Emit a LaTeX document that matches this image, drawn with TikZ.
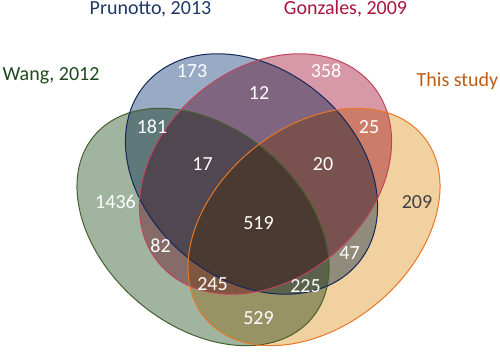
\documentclass[tikz,border=0pt]{standalone}
\usepackage{fontspec}
\setmainfont{Carlito}
\definecolor{gfill}{RGB}{160,180,160}
\definecolor{bfill}{RGB}{152,170,196}
\definecolor{rfill}{RGB}{215,152,168}
\definecolor{ofill}{RGB}{242,209,160}
\definecolor{gline}{RGB}{70,95,45}
\definecolor{bline}{RGB}{20,40,90}
\definecolor{rline}{RGB}{190,70,90}
\definecolor{oline}{RGB}{232,120,40}
\definecolor{gtext}{RGB}{30,72,30}
\definecolor{btext}{RGB}{31,56,100}
\definecolor{rtext}{RGB}{170,20,60}
\definecolor{otext}{RGB}{190,92,20}
\definecolor{dtext}{RGB}{64,64,64}
\begin{document}
\begin{tikzpicture}[x=1pt,y=1pt,
  setline/.style={line width=1pt},
  num/.style={anchor=base,inner sep=0pt,text=white,font=\fontsize{20}{24}\selectfont},
  title/.style={anchor=base,inner sep=0pt,font=\fontsize{20}{24}\selectfont}]
\useasboundingbox (0,0) rectangle (500,352);
% fills, multiplied together
\begin{scope}[blend group=multiply]
\fill[gfill,rotate around={-40:(203,125)}] (203,125) ellipse [x radius=142,y radius=99];
\fill[bfill,rotate around={-40:(251.5,178)}] (251.5,178) ellipse [x radius=139,y radius=105];
\fill[rfill,rotate around={40:(265.5,178)}] (265.5,178) ellipse [x radius=139,y radius=105];
\fill[ofill,rotate around={40:(314,125)}] (314,125) ellipse [x radius=142,y radius=99];
\end{scope}
% outlines
\draw[gline,setline,rotate around={-40:(203,125)}] (203,125) ellipse [x radius=142,y radius=99];
\draw[bline,setline,rotate around={-40:(251.5,178)}] (251.5,178) ellipse [x radius=139,y radius=105];
\draw[rline,setline,rotate around={40:(265.5,178)}] (265.5,178) ellipse [x radius=139,y radius=105];
\draw[oline,setline,rotate around={40:(314,125)}] (314,125) ellipse [x radius=142,y radius=99];
% titles
\node[title,text=btext] (tP) at (150.5,337) {Prunotto, 2013};
\node[title,text=rtext] (tG) at (345.5,337) {Gonzales, 2009};
\node[title,text=gtext] (tW) at (51,271) {Wang, 2012};
\node[title,text=otext] (tT) at (457.5,265) {This study};
% numbers
\node[num] (n173) at (192,274.7) {173};
\node[num] (n358) at (326,274.7) {358};
\node[num] (n12) at (259,252.2) {12};
\node[num] (n181) at (152,218.7) {181};
\node[num] (n25) at (369,218.7) {25};
\node[num] (n17) at (202.5,181.7) {17};
\node[num] (n20) at (323,181.7) {20};
\node[num] (n1436) at (115.5,143.7) {1436};
\node[num,text=dtext] (n209) at (417,143.7) {209};
\node[num] (n519) at (258.5,122.2) {519};
\node[num] (n82) at (160.5,99.2) {82};
\node[num] (n47) at (349.5,92.7) {47};
\node[num] (n245) at (212.5,61.7) {245};
\node[num] (n225) at (305.5,59.2) {225};
\node[num] (n529) at (258.5,27.2) {529};
\end{tikzpicture}
\end{document}
